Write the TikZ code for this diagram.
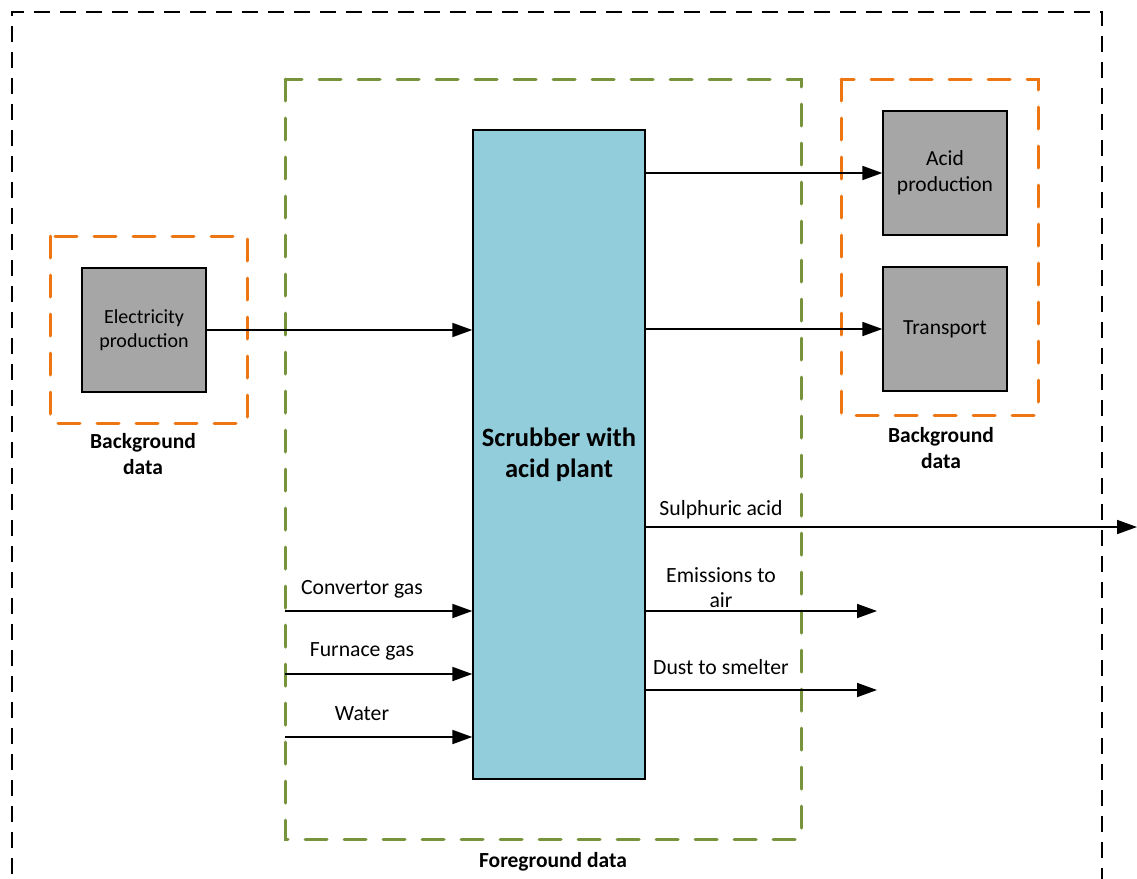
\documentclass[tikz,border=0pt]{standalone}
\usepackage{fontspec}
\setmainfont{Carlito}
\usetikzlibrary{arrows.meta}
\definecolor{fgreen}{RGB}{119,147,60}
\definecolor{borange}{RGB}{237,118,18}
\definecolor{boxgray}{RGB}{166,166,166}
\definecolor{scrubblue}{RGB}{146,205,220}
\tikzset{
  outerframe/.style={draw=black, line width=2pt, dash pattern=on 16pt off 10pt},
  fgframe/.style={draw=fgreen, line width=3pt, line cap=round, dash pattern=on 22pt off 17pt},
  bgframe/.style={draw=borange, line width=3pt, line cap=round, dash pattern=on 22pt off 17pt},
  procbox/.style={draw=black, fill=boxgray, line width=1.3pt, minimum width=124pt, minimum height=124pt, inner sep=0pt, align=center, font=\fontsize{21.5}{26}\selectfont},
  flow/.style={draw=black, line width=1.8pt, -{Triangle[length=20pt,width=14pt]}},
  lbl/.style={font=\fontsize{21.7}{25}\selectfont, align=center, inner sep=0pt},
  blbl/.style={font=\fontsize{21.5}{26}\selectfont\bfseries, align=center, inner sep=0pt},
}
\begin{document}
\begin{tikzpicture}[x=1pt,y=-1pt]
\useasboundingbox (0,0) rectangle (1137,878);
% frames
\draw[outerframe] (12,900) -- (12,12) -- (1102,12) -- (1102,900);
\draw[fgframe] (285,79) rectangle (801,839);
\draw[bgframe] (50,236) rectangle (247,423);
\draw[bgframe] (841,79) rectangle (1038,415);
% boxes
\node[procbox, font=\fontsize{20}{23.5}\selectfont] (elec) at (144,330) {Electricity\\production};
\node[procbox] (acid) at (945,173) {Acid\\production};
\node[procbox] (trans) at (945,329) {Transport};
\node[draw=black, fill=scrubblue, line width=1.3pt, minimum width=172pt, minimum height=649pt, inner sep=0pt] (scrub) at (559,454.5) {};
\node[font=\fontsize{26.5}{31}\selectfont\bfseries, align=center] (scrubtxt) at (559,455) {Scrubber with\\acid plant};
% labels of frames
\node[blbl] (bgl) at (143,454) {Background\\data};
\node[blbl] (bgr) at (941,448) {Background\\data};
\node[blbl] (fgl) at (553,862) {Foreground data};
% coordinates of free ends
\coordinate (cin) at (285,611);
\coordinate (fin) at (285,674);
\coordinate (win) at (285,737);
\coordinate (sout) at (1137,527);
\coordinate (eout) at (877,611);
\coordinate (dout) at (877,690);
% connectors
\draw[flow] (elec.east) -- (elec.east -| scrub.west);
\draw[flow] (scrub.east |- acid.west) -- (acid.west);
\draw[flow] (scrub.east |- trans.west) -- (trans.west);
\draw[flow] (cin) -- (cin -| scrub.west);
\draw[flow] (fin) -- (fin -| scrub.west);
\draw[flow] (win) -- (win -| scrub.west);
\draw[flow] (sout -| scrub.east) -- (sout);
\draw[flow] (eout -| scrub.east) -- (eout);
\draw[flow] (dout -| scrub.east) -- (dout);
% flow labels
\node[lbl] (lc) at (362,589) {Convertor gas};
\node[lbl] (lf) at (362,651) {Furnace gas};
\node[lbl] (lw) at (362,714) {Water};
\node[lbl] (ls) at (721,510) {Sulphuric acid};
\node[lbl] (le) at (721,588) {Emissions to\\air};
\node[lbl] (ld) at (721,667) {Dust to smelter};
\end{tikzpicture}
\end{document}
